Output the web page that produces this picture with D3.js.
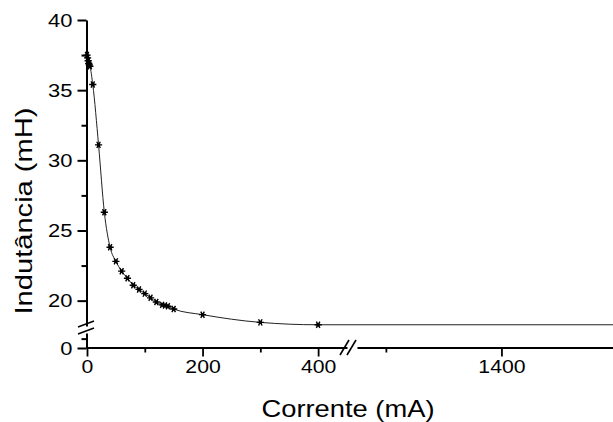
<!DOCTYPE html>
<html lang="pt">
    <head>
        <meta charset="UTF-8">
        <script src="https://cdn.jsdelivr.net/npm/d3@7/dist/d3.min.js"></script>
        <title>Indutancia x Corrente</title>
        <style>
            body { margin: 0; background: #fff; }
            text { font-family: "Liberation Sans", Arial, sans-serif; fill: #000; }
            .axis path, .axis line { stroke: #000; }
        </style>
    </head>
    <body>
        <svg id="canvas" width="613" height="422"></svg>

        <script>
            // corrente (mA) e indutancia (mH)
            var corrente   = [0, 1, 2, 3, 4, 5, 10, 20, 30, 40, 50, 60, 70, 80, 90, 100, 110, 120, 130, 135, 140, 150, 200, 300, 400, 1800];
            var indutancia = [37.5, 37.3, 37.1, 36.9, 36.8, 36.7, 35.4, 31.1, 26.3, 23.8, 22.8, 22.1, 21.6, 21.1, 20.8, 20.5, 20.2, 19.9, 19.7, 19.65, 19.6, 19.4, 19.0, 18.45, 18.28, 18.28];
            var semMarcador = [1800];

            var xTicksLeft  = [0, 200, 400],  xMinorLeft  = [100, 300];
            var xTicksRight = [1400],         xMinorRight = [1200, 1600];
            var yTicksUpper = [20, 25, 30, 35, 40], yMinorUpper = [22.5, 27.5, 32.5, 37.5];
            var yTicksLower = [0], yMinorLower = [5];

            var svg = d3.select("svg#canvas");

            // eixo x quebrado: 0-450 | 1150-1600
            var xLeft  = d3.scaleLinear().domain([0, 450]).range([87, 347]),
                xRight = d3.scaleLinear().domain([1150, 1600]).range([357, 617]),
                x = d3.scaleLinear().domain([0, 450, 1150, 1600]).range([87, 347, 357, 617]);

            // eixo y quebrado: 0-8 | 18.2-40
            var yLower = d3.scaleLinear().domain([0, 8]).range([348, 333]),
                yUpper = d3.scaleLinear().domain([18.2, 40]).range([325.9, 20]),
                y = d3.scaleLinear().domain([0, 8, 18.2, 40]).range([348, 333, 325.9, 20]);

            function axisX(scale, ticks, minor) {
                var g = svg.append("g").attr("class", "axis").attr("transform", "translate(0,347.5)");
                g.call(d3.axisBottom(scale).tickValues(ticks).tickSize(9).tickSizeOuter(0).tickPadding(5).tickFormat(d3.format("d")));
                g.append("g").call(d3.axisBottom(scale).tickValues(minor).tickSize(5).tickSizeOuter(0).tickFormat(""))
                    .select(".domain").remove();
                g.selectAll("path, line").attr("stroke-width", 1.8);
                g.selectAll("text").attr("font-size", "19px").attr("dy", "0.6em")
                    .each(function() {
                        var t = d3.select(this);
                        t.attr("textLength", t.text().length * 11.8).attr("lengthAdjust", "spacingAndGlyphs");
                    });
            }
            function axisY(scale, ticks, minor) {
                var g = svg.append("g").attr("class", "axis").attr("transform", "translate(86.5,0)");
                g.call(d3.axisLeft(scale).tickValues(ticks).tickSize(9).tickSizeOuter(0).tickPadding(5).tickFormat(d3.format("d")));
                g.append("g").call(d3.axisLeft(scale).tickValues(minor).tickSize(5).tickSizeOuter(0).tickFormat(""))
                    .select(".domain").remove();
                g.selectAll("path, line").attr("stroke-width", 2);
                g.selectAll("text").attr("font-size", "19px")
                    .each(function() {
                        var t = d3.select(this);
                        t.attr("textLength", t.text().length * 12.2).attr("lengthAdjust", "spacingAndGlyphs");
                    });
            }

            axisX(xLeft, xTicksLeft, xMinorLeft);
            axisX(xRight, xTicksRight, xMinorRight);
            axisY(yUpper, yTicksUpper, yMinorUpper);
            axisY(yLower, yTicksLower, yMinorLower);

            // marcas de quebra
            var brk = svg.append("g").attr("stroke", "#000").attr("stroke-width", 1.6);
            [-3, 4].forEach(function(o) {
                brk.append("line")
                    .attr("x1", xLeft.range()[1] + o - 4).attr("y1", 355)
                    .attr("x2", xLeft.range()[1] + o + 5).attr("y2", 340);
                brk.append("line")
                    .attr("x1", 78).attr("y1", yUpper.range()[0] + o + 4)
                    .attr("x2", 94).attr("y2", yUpper.range()[0] + o - 2);
            });

            var data = corrente.map(function(c, i) { return [c, indutancia[i]]; });

            svg.append("clipPath").attr("id", "clip")
                .append("rect").attr("x", 0).attr("y", 0).attr("width", 613).attr("height", 422);

            var line = d3.line()
                .x(function(d) { return x(d[0]); })
                .y(function(d) { return y(d[1]); })
                .curve(d3.curveMonotoneX);

            svg.append("path").attr("d", line(data)).attr("clip-path", "url(#clip)")
                .call(function(s) {
                    s.attr("stroke-width", "1px");
                    s.attr("stroke", "#222");
                    s.attr("fill", "none");
                });

            var pontos = data.filter(function(d) { return semMarcador.indexOf(d[0]) < 0; });
            var star = d3.symbol().type(d3.symbolAsterisk).size(36);
            var mk = svg.append("g").selectAll("g")
                .data(pontos)
                .join("g")
                .attr("transform", function(d) { return "translate(" + x(d[0]) + "," + y(d[1]) + ")"; });
            mk.append("path")
                .attr("d", star)
                .attr("transform", "rotate(90)")
                .attr("fill", "none")
                .attr("stroke", "#000")
                .attr("stroke-width", 1.4);
            mk.append("rect")
                .attr("x", -1.6).attr("y", -1.6).attr("width", 3.2).attr("height", 3.2)
                .attr("fill", "#000");

            // titulos
            svg.append("text")
                .attr("x", 348).attr("y", 417)
                .attr("text-anchor", "middle")
                .attr("font-size", "24px")
                .attr("textLength", 173).attr("lengthAdjust", "spacingAndGlyphs")
                .text("Corrente (mA)");

            svg.append("text")
                .attr("transform", "translate(32,211) rotate(-90)")
                .attr("text-anchor", "middle")
                .attr("font-size", "24px")
                .attr("textLength", 207).attr("lengthAdjust", "spacingAndGlyphs")
                .text("Indutância (mH)");
        </script>
    </body>
</html>
